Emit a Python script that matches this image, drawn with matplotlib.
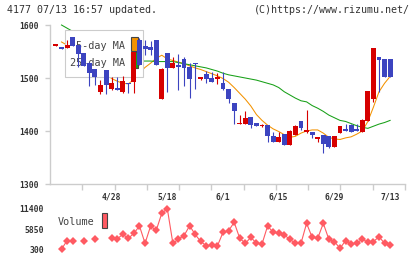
import numpy as np
import matplotlib
matplotlib.use("Agg")
import matplotlib.pyplot as plt
from matplotlib.patches import Rectangle

plt.rcParams['font.family'] = ['DejaVu Sans Mono', 'DejaVu Sans']

# trading-day index (-1 .. 59), prices
days = np.arange(-1, 60)
opens = [1561, 1558, 1556, 1578, 1562, 1548, 1528, 1517, 1474, 1515,
         1479, 1481, 1473, 1491, 1493, 1571, 1560, 1558, 1571, 1461,
         1547, 1519, 1524, 1536, 1521, 1528, 1498, 1507, 1500, 1498,
         1490, 1479, 1452, 1413, 1414, 1427, 1415, 1409, 1411, 1390,
         1380, 1394, 1374, 1392, 1419, 1399, 1399, 1384, 1392, 1390,
         1370, 1397, 1404, 1411, 1403, 1399, 1419, 1460, 1540, 1536,
         1535]
closes = [1562, 1555, 1562, 1561, 1546, 1523, 1510, 1502, 1487, 1487,
          1491, 1478, 1494, 1488, 1550, 1525, 1555, 1553, 1525, 1517,
          1518, 1529, 1520, 1518, 1498, 1526, 1500, 1498, 1493, 1502,
          1479, 1460, 1438, 1415, 1425, 1411, 1410, 1411, 1390, 1380,
          1389, 1374, 1400, 1409, 1406, 1400, 1392, 1389, 1375, 1370,
          1390, 1409, 1400, 1399, 1400, 1421, 1476, 1557, 1534, 1501,
          1502]
highs = [1562, 1558, 1572, 1578, 1562, 1548, 1530, 1517, 1496, 1515,
         1502, 1501, 1504, 1491, 1550, 1575, 1571, 1570, 1571, 1519,
         1547, 1540, 1545, 1540, 1528, 1529, 1502, 1513, 1511, 1509,
         1512, 1480, 1452, 1430, 1438, 1427, 1415, 1414, 1411, 1399,
         1399, 1394, 1402, 1411, 1419, 1440, 1399, 1389, 1392, 1390,
         1390, 1409, 1413, 1414, 1413, 1423, 1476, 1557, 1540, 1536,
         1535]
lows = [1561, 1555, 1556, 1561, 1520, 1523, 1484, 1487, 1469, 1469,
        1477, 1477, 1472, 1472, 1472, 1525, 1543, 1543, 1525, 1461,
        1474, 1519, 1478, 1484, 1463, 1479, 1497, 1490, 1493, 1488,
        1477, 1452, 1413, 1413, 1413, 1406, 1410, 1407, 1380, 1380,
        1380, 1373, 1374, 1392, 1402, 1396, 1386, 1380, 1359, 1367,
        1370, 1397, 1400, 1399, 1400, 1399, 1419, 1455, 1474, 1501,
        1502]

ma5 = [np.nan, 1568, 1562, 1558, 1552, 1545, 1536, 1527, 1517, 1507,
       1499, 1494, 1490, 1489, 1497, 1510, 1520, 1528, 1537, 1543,
       1536, 1533, 1530, 1527, 1523, 1519, 1516, 1512, 1508, 1504,
       1499, 1492, 1482, 1471, 1460, 1447, 1431, 1420, 1411, 1404,
       1399, 1393, 1388, 1390, 1396, 1400, 1402, 1402, 1396, 1388,
       1385, 1384, 1387, 1389, 1394, 1400, 1418, 1445, 1474, 1490,
       1503]
ma25 = [np.nan, 1600, 1594, 1588, 1582, 1576, 1570, 1565, 1560, 1555,
        1550, 1545, 1541, 1537, 1534, 1532, 1532, 1532, 1531, 1531,
        1531, 1531, 1529, 1527, 1525, 1523, 1521, 1519, 1516, 1513,
        1509, 1506, 1504, 1502, 1500, 1498, 1496, 1493, 1490, 1487,
        1482, 1474, 1468, 1462, 1457, 1455, 1448, 1443, 1437, 1430,
        1425, 1420, 1418, 1414, 1410, 1407, 1405, 1409, 1413, 1416,
        1420]

volume = [np.nan, 300, 2720, 2670, np.nan, 2670, np.nan, 3140, np.nan, np.nan,
          3330, 3140, 4430, 3330, 4710, 6720, 1950, 6720, 5480, 10210,
          11480, 1900, 3140, 4050, 6800, 4380, 2450, 1260, 1400, 1260,
          4980, 5420, 7740, 3330, 1950, 3600, 1950, 1760, 6720, 4980,
          4710, 4240, 3050, 1950, 1950, 7460, 3600, 3330, 7460, 3050,
          2400, 580, 2670, 1760, 1950, 3140, 2230, 2400, 3770, 1950,
          1480]

date_pos = [9, 19, 29, 39, 49, 59]
date_labels = ['4/28', '5/18', '6/1', '6/15', '6/29', '7/13']
price_ticks = [1300, 1400, 1500, 1600]
vol_ticks = [300, 5850, 11400]

RED = '#d60000'
BLUE = '#3c44c0'
ORANGE = '#f39200'
GREEN = '#17a017'
VOLC = '#ff5a62'
AXC = '#cccccc'
TXT = '#333333'

W, H = 420, 259
fig = plt.figure(figsize=(W / 100, H / 100), dpi=100)
ax = fig.add_axes([50 / W, 75 / H, 355 / W, 159 / H])
axv = fig.add_axes([50 / W, 9.7 / H, 355 / W, 40.3 / H])

x0, x1 = -2.065, 61.67
ax.set_xlim(x0, x1)
ax.set_ylim(1300, 1600)

# moving averages (under the legend box)
ax.plot(days, ma5, color=ORANGE, lw=0.75, zorder=1, clip_on=False)
ax.plot(days, ma25, color=GREEN, lw=0.75, zorder=1, clip_on=False)

# legend box
ax.add_patch(Rectangle((0.042, 0.673), 0.22, 0.296, transform=ax.transAxes,
                       facecolor='white', edgecolor=AXC, lw=0.8, zorder=2))
ax.text(0.211, 0.868, '5-day MA', transform=ax.transAxes, ha='right',
        va='center', fontsize=7.3, color='#444444', zorder=2)
ax.text(0.211, 0.763, '25-day MA', transform=ax.transAxes, ha='right',
        va='center', fontsize=7.3, color='#444444', zorder=2)
ax.add_patch(Rectangle((0.228, 0.836), 0.02, 0.089, transform=ax.transAxes,
                       facecolor=ORANGE, edgecolor='#444444', lw=0.8, zorder=2))
ax.add_patch(Rectangle((0.228, 0.727), 0.02, 0.105, transform=ax.transAxes,
                       facecolor=GREEN, edgecolor='#444444', lw=0.8, zorder=2))

# candles
o = np.array(opens, dtype=float)
c = np.array(closes, dtype=float)
colors = [RED if cc >= oo else BLUE for oo, cc in zip(o, c)]
bottoms = np.minimum(o, c)
heights = np.maximum(np.abs(c - o), 3)
ax.vlines(days, lows, highs, colors=colors, lw=0.8, zorder=3)
ax.bar(days, heights, 0.88, bottom=bottoms, color=colors, zorder=3, lw=0)

for s in ['top', 'right']:
    ax.spines[s].set_visible(False)
for s in ['left', 'bottom']:
    ax.spines[s].set_color(AXC)
    ax.spines[s].set_linewidth(1)
ax.set_yticks(price_ticks)
ax.set_yticklabels([str(t) for t in price_ticks])
ax.set_xticks(np.linspace(x0, x1, 12)[1:])
ax.set_xticklabels([])
ax.tick_params(axis='y', colors=AXC, labelcolor=TXT, length=3.6, width=1,
               pad=4.3, labelsize=5.8)
ax.tick_params(axis='x', colors=AXC, length=4.3, width=1)
for lab in ax.get_yticklabels():
    lab.set_fontweight('bold')

for p, lab in zip(date_pos, date_labels):
    ax.text(p, -0.082, lab, transform=ax.get_xaxis_transform(), ha='center',
            va='center', fontsize=5.8, color=TXT, fontweight='bold')

# volume panel
axv.set_xlim(x0, x1)
axv.set_ylim(300, 11400)
axv.plot(days, volume, '-D', color=VOLC, lw=0.8, ms=4.2, mew=0, clip_on=False)
for s in axv.spines.values():
    s.set_visible(False)
axv.set_xticks([])
axv.set_yticks(vol_ticks)
axv.set_yticklabels([str(t) for t in vol_ticks])
axv.tick_params(axis='y', length=0, pad=4.3, labelsize=5.8, labelcolor=TXT)
for lab in axv.get_yticklabels():
    lab.set_fontweight('bold')

fig.text(58 / W, 1 - 222 / H, 'Volume', fontsize=7.3, va='center',
         color='#444444')
fig.patches.append(Rectangle((101.7 / W, 1 - 228 / H), 5.6 / W, 15 / H,
                             transform=fig.transFigure, facecolor=VOLC,
                             edgecolor='#444444', lw=0.8))

fig.text(7 / W, 1 - 10 / H, '4177 07/13 16:57 updated.', fontsize=7.2,
         va='center', color=TXT)
fig.text(410 / W, 1 - 10 / H, '(C)https://www.rizumu.net/', fontsize=7.2,
         va='center', ha='right', color=TXT)

fig.savefig('out.png', dpi=100)
